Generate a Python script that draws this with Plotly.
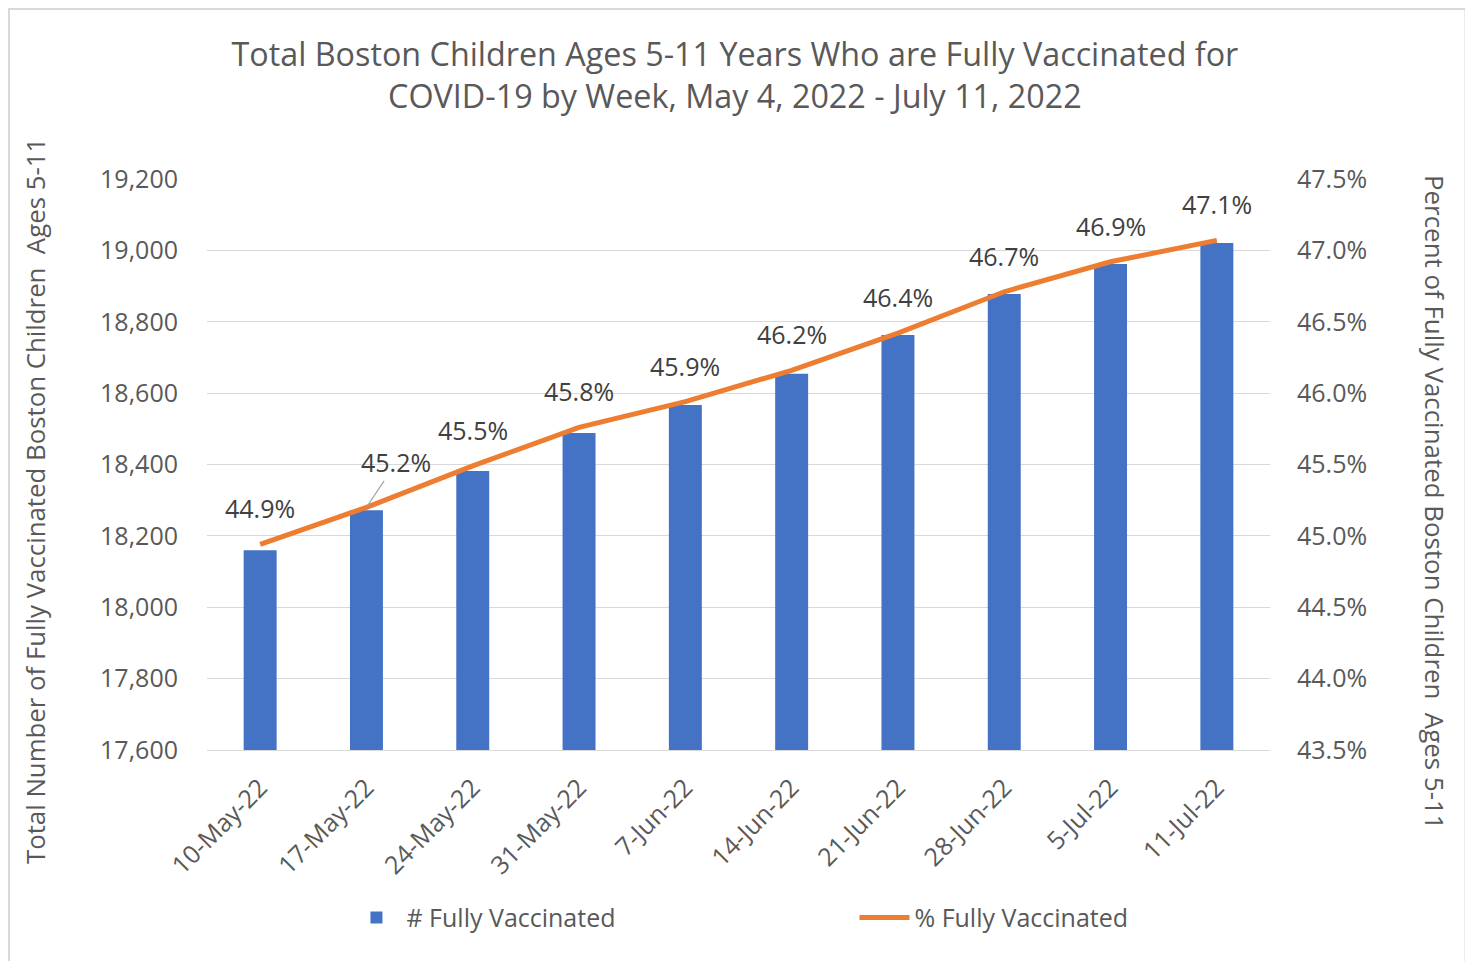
import plotly.graph_objects as go

weeks = ["10-May-22", "17-May-22", "24-May-22", "31-May-22", "7-Jun-22",
         "14-Jun-22", "21-Jun-22", "28-Jun-22", "5-Jul-22", "11-Jul-22"]
fully_vaccinated = [18160, 18272, 18382, 18488, 18567, 18654, 18763, 18878, 18962, 19021]
pct_vaccinated = [44.94, 45.20, 45.49, 45.76, 45.94, 46.16, 46.42, 46.71, 46.92, 47.07]

left_ticks = [17600, 17800, 18000, 18200, 18400, 18600, 18800, 19000, 19200]
right_ticks = [43.5, 44.0, 44.5, 45.0, 45.5, 46.0, 46.5, 47.0, 47.5]

FONT = "Open Sans"
TXT = "#595959"

fig = go.Figure()
fig.add_trace(go.Bar(
    x=weeks, y=fully_vaccinated, name="# Fully Vaccinated",
    marker=dict(color="#4472C4", line=dict(width=0)), width=0.31,
))
fig.add_trace(go.Scatter(
    x=weeks, y=pct_vaccinated, name="% Fully Vaccinated", yaxis="y2",
    mode="lines", line=dict(color="#ED7D31", width=5),
))

annotations = []
for i, (w, p) in enumerate(zip(weeks, pct_vaccinated)):
    if i == 1:
        annotations.append(dict(
            x=w, y=p, xref="x", yref="y2", text=f"{p:.1f}%",
            showarrow=True, arrowhead=0, arrowwidth=1.2, arrowcolor="#A6A6A6",
            ax=30, ay=-45, standoff=2,
            font=dict(family=FONT, size=25, color="#404040"),
        ))
    else:
        annotations.append(dict(
            x=w, y=p, xref="x", yref="y2", text=f"{p:.1f}%",
            showarrow=False, yshift=36,
            font=dict(family=FONT, size=25, color="#404040"),
        ))

annotations.append(dict(
    x=-0.1618, y=0.436, xref="paper", yref="paper", xanchor="center", yanchor="middle",
    text="Total Number of Fully Vaccinated Boston Children  Ages 5-11",
    textangle=-90, showarrow=False, font=dict(family=FONT, size=25.8, color=TXT),
))
annotations.append(dict(
    x=1.1552, y=0.4326, xref="paper", yref="paper", xanchor="center", yanchor="middle",
    text="Percent of Fully Vaccinated Boston Children  Ages 5-11",
    textangle=90, showarrow=False, font=dict(family=FONT, size=25.9, color=TXT),
))

fig.update_layout(
    width=1473, height=961,
    margin=dict(l=199, r=211, t=171, b=219),
    paper_bgcolor="white", plot_bgcolor="white",
    font=dict(family=FONT, color=TXT),
    title=dict(
        text="Total Boston Children Ages 5-11 Years Who are Fully Vaccinated for<br>COVID-19 by Week, May 4, 2022 - July 11, 2022",
        x=0.4935, xanchor="center", y=0.9394, yanchor="middle",
        font=dict(family=FONT, size=32.3, color=TXT),
    ),
    xaxis=dict(
        tickangle=-45, tickfont=dict(family=FONT, size=25, color=TXT),
        showgrid=False, showline=True, linecolor="#D9D9D9", linewidth=1.3,
        ticks="", ticklabelstandoff=12,
    ),
    yaxis=dict(
        range=[17600, 19200], tickvals=left_ticks, tickformat=",d",
        tickfont=dict(family=FONT, size=25, color=TXT),
        showgrid=True, gridcolor="#D9D9D9", gridwidth=1.3, zeroline=False,
        ticks="", ticklabelstandoff=28,
    ),
    yaxis2=dict(
        range=[43.5, 47.5], tickvals=right_ticks,
        ticktext=[f"{v:.1f}%" for v in right_ticks],
        overlaying="y", side="right",
        tickfont=dict(family=FONT, size=25, color=TXT),
        showgrid=False, zeroline=False, ticks="", ticklabelstandoff=26,
    ),
    legend=dict(
        orientation="h", x=0.1312, y=-0.294, xanchor="left", yanchor="middle",
        font=dict(family=FONT, size=25, color=TXT), entrywidth=443,
        itemwidth=50, traceorder="normal",
    ),
    annotations=annotations,
    shapes=[dict(
        type="rect", xref="paper", yref="paper",
        x0=-0.1863, x1=1.1839, y0=-0.378, y1=1.2977,
        line=dict(color="#D9D9D9", width=2), fillcolor="rgba(0,0,0,0)", layer="below",
    )],
)

fig.write_html("out.html")
